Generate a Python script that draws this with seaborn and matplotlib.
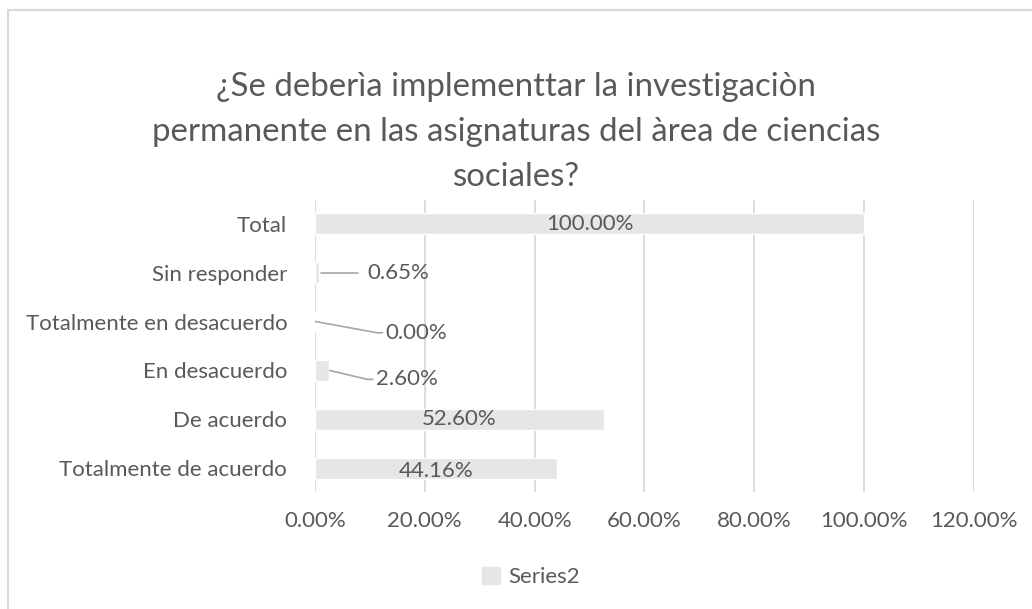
import matplotlib
matplotlib.use("Agg")
import matplotlib.pyplot as plt
import seaborn as sns
import pandas as pd
from matplotlib.lines import Line2D

categories = ["Total", "Sin responder", "Totalmente en desacuerdo",
              "En desacuerdo", "De acuerdo", "Totalmente de acuerdo"]
values = [100.00, 0.65, 0.00, 2.60, 52.60, 44.16]
x_ticks = [0, 20, 40, 60, 80, 100, 120]
series_name = "Series2"
title_lines = ["¿Se deberìa implementtar la investigaciòn",
               "permanente en las asignaturas del àrea de ciencias",
               "sociales?"]

sns.set_theme(style="white")
plt.rcParams['font.family'] = ['Lato', 'DejaVu Sans']

TXT = "#595959"
BAR = "#e7e6e6"
GRID = "#d9d9d9"
FS = 16

df = pd.DataFrame({"cat": categories, "val": values})

fig = plt.figure(figsize=(10.32, 6.09), dpi=100)
ax = fig.add_axes([315/1032, 1-492/609, (973.8-315)/1032, (492-200)/609])

sns.barplot(data=df, y="cat", x="val", orient="h", color=BAR, width=0.42,
            saturation=1, ax=ax, zorder=2)

ax.set_xlim(0, 120)
ax.set_xticks(x_ticks)
ax.set_xticklabels([f"{t:.2f}%" for t in x_ticks])
ax.set_xlabel("")
ax.set_ylabel("")
ax.grid(axis="x", color=GRID, linewidth=1.3, zorder=0)
ax.set_axisbelow(True)
for s in ax.spines.values():
    s.set_visible(False)
ax.tick_params(axis="x", length=0, pad=14, labelsize=FS, labelcolor=TXT)
ax.tick_params(axis="y", length=0, pad=20, labelsize=FS, labelcolor=TXT)

# labels
for i, v in enumerate(values):
    lab = f"{v:.2f}%"
    if v > 20:
        dy = 0.06 if i == 5 else 0.0
        ax.text(v/2, i + dy, lab, ha="center", va="center", fontsize=FS, color=TXT, zorder=3)

# leader-line labels for small bars: (row, text x %, text y offset rows)
small = {1: (9.5, 0.0), 2: (12.9, 0.23), 3: (11.1, 0.18)}
for i, (tx, dy) in small.items():
    v = values[i]
    ty = i + dy
    ax.text(tx, ty, f"{v:.2f}%", ha="left", va="center", fontsize=FS, color=TXT, zorder=3)
    x0 = v if v > 0 else 0
    elbow = tx - 1.6
    if dy:
        xs, ys = [x0 + 0.1, elbow, tx - 0.6], [i, ty, ty]
    else:
        xs, ys = [x0 + 0.5, tx - 1.6], [i, ty]
    ax.plot(xs, ys, color="#a6a6a6", lw=1.2, zorder=3, clip_on=False)

# title
for k, line in enumerate(title_lines):
    fig.text(516/1032, 1-(87 + 45*k)/609, line, ha="center", va="center",
             fontsize=23.8, color=TXT)

# legend
handle = plt.Rectangle((0, 0), 1, 1, color=BAR)
fig.legend([handle], [series_name], loc="center", bbox_to_anchor=(531/1032, 1-577/609),
           frameon=False, fontsize=FS, labelcolor=TXT, handlelength=0.8,
           handleheight=0.8, handletextpad=0.4)

# chart border (left and top)
fig.add_artist(Line2D([8/1032, 8/1032], [0, 1-10/609], color=GRID, lw=1.5, transform=fig.transFigure))
fig.add_artist(Line2D([8/1032, 1], [1-10/609, 1-10/609], color=GRID, lw=1.5, transform=fig.transFigure))

fig.savefig("out.png", dpi=100, facecolor="white")
